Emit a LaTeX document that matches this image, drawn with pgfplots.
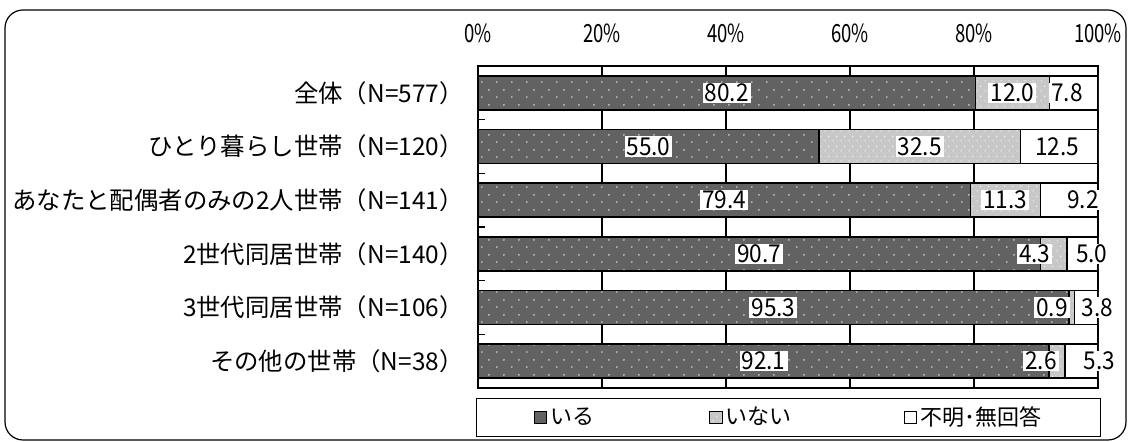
\documentclass[border=0pt]{standalone}
\usepackage{pgfplots}
\pgfplotsset{compat=1.18}
\usepackage{fontspec}
\setmainfont{Noto Sans CJK JP}
\usetikzlibrary{patterns.meta}
\definecolor{dk}{RGB}{98,98,98}
\definecolor{lt}{RGB}{200,200,200}
\tikzdeclarepattern{name=dotsA, type=uncolored, bottom left={(0pt,0pt)}, top right={(7.5pt,7.3pt)}, tile size={(7.5pt,7.3pt)},
  code={\fill (1pt,1pt) circle (0.4pt); \fill (4.75pt,4.65pt) circle (0.4pt);}}
\tikzdeclarepattern{name=dotsB, type=uncolored, bottom left={(0pt,0pt)}, top right={(4pt,5pt)}, tile size={(4pt,5pt)},
  code={\fill (0.6pt,0.6pt) circle (0.35pt); \fill (2.6pt,3.1pt) circle (0.35pt);}}
\begin{document}
\begin{tikzpicture}
\path[use as bounding box] (0pt,0pt) rectangle (565.5pt,-221pt);
\draw[line width=0.6pt, rounded corners=9pt] (2.5pt,-5pt) rectangle (563pt,-220pt);
\begin{axis}[
  at={(239pt,-194pt)}, anchor=south west,
  scale only axis, width=310pt, height=161pt,
  xbar stacked, bar width=17pt,
  xmin=0, xmax=100, ymin=-0.5, ymax=5.5, y dir=reverse,
  /pgf/number format/assume math mode=true,
  xtick={0,20,...,100},
  xticklabel pos=right,
  xticklabel={\scalebox{0.74}[1]{\pgfmathprintnumber{\tick}\%}},
  xticklabel style={font=\fontsize{12.5}{14}\selectfont, yshift=8pt},
  ytick={0,...,5},
  yticklabels={全体（N=577）, ひとり暮らし世帯（N=120）, あなたと配偶者のみの2人世帯（N=141）, 2世代同居世帯（N=140）, 3世代同居世帯（N=106）, その他の世帯（N=38）},
  yticklabel style={font=\fontsize{12.2}{14}\selectfont, inner xsep=0pt, xshift=-7pt},
  minor ytick={0.5,1.5,...,4.5},
  major tick length=0pt, minor tick length=3.5pt, tick align=inside,
  ytick pos=left,
  tick style={black, line width=0.6pt},
  xmajorgrids, major grid style={black, line width=0.6pt},
  axis line style={black, line width=0.6pt},
  legend columns=3,
  legend style={at={(axis description cs:0,0)}, anchor=north west, yshift=-5pt, xshift=-1pt,
    draw=black, line width=0.6pt, inner xsep=28.5pt, inner ysep=3pt,
    font=\fontsize{11}{13}\selectfont,
    nodes={inner xsep=1.5pt, inner ysep=1pt, anchor=west}},
]
\addplot[fill=dk, draw=black, line width=0.7pt, postaction={pattern=dotsA, pattern color=white},
  legend image code/.code={\draw[fill=dk, draw=black, line width=0.6pt] (0pt,-3.1pt) rectangle (6.2pt,3.1pt);}]
  coordinates {(80.2,0) (55.0,1) (79.4,2) (90.7,3) (95.3,4) (92.1,5)};
\addplot[fill=lt, draw=black, line width=0.7pt, postaction={pattern=dotsB, pattern color=white},
  legend image code/.code={\draw[fill=lt, draw=black, line width=0.6pt] (0pt,-3.1pt) rectangle (6.2pt,3.1pt);}]
  coordinates {(12.0,0) (32.5,1) (11.3,2) (4.3,3) (0.9,4) (2.6,5)};
\addplot[fill=white, draw=black, line width=0.7pt,
  legend image code/.code={\draw[fill=white, draw=black, line width=0.6pt] (0pt,-3.1pt) rectangle (6.2pt,3.1pt);}]
  coordinates {(7.8,0) (12.5,1) (9.2,2) (5.0,3) (3.8,4) (5.3,5)};
\legend{\makebox[78pt][l]{いる}, \makebox[87.5pt][l]{いない}, \makebox[60pt][l]{不明･無回答}}
\end{axis}
\begin{axis}[
  at={(239pt,-194pt)}, anchor=south west,
  scale only axis, width=310pt, height=161pt,
  xmin=0, xmax=100, ymin=-0.5, ymax=5.5, y dir=reverse,
  hide axis, clip=false,
]
\addplot[draw=none, mark=none, point meta=explicit symbolic,
  nodes near coords={\scalebox{0.92}[1]{\pgfplotspointmeta}},
  every node near coord/.append style={anchor=center, fill=white, text=black, inner xsep=1pt, inner ysep=0.5pt, font=\fontsize{12.3}{14}\selectfont}]
  table[x=x, y=y, meta=lab] {
x y lab
40.1 0 80.2
86.2 0 12.0
95.0 0 7.8
27.5 1 55.0
71.25 1 32.5
93.4 1 12.5
39.7 2 79.4
85.05 2 11.3
97.6 2 9.2
45.35 3 90.7
89.8 3 4.3
99.0 3 5.0
47.65 4 95.3
92.6 4 0.9
99.9 4 3.8
46.05 5 92.1
90.8 5 2.6
100.2 5 5.3
};
\end{axis}
\end{tikzpicture}
\end{document}
